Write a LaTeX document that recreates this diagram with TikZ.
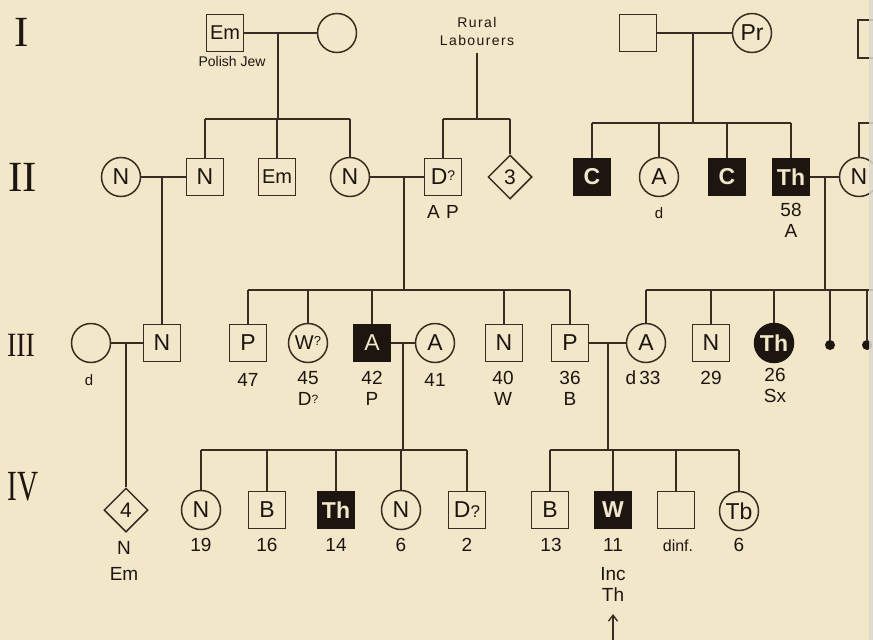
\documentclass[tikz,border=0pt]{standalone}
\usepackage{fontspec}
\setmainfont{Liberation Sans}
\newfontfamily\romfont{Liberation Serif}
\newfontfamily\spacedfont[LetterSpace=10]{Liberation Sans}
\usetikzlibrary{shapes.geometric,arrows.meta}
\definecolor{bg}{HTML}{F3E7CA}
\definecolor{ink}{HTML}{3A2C22}
\definecolor{blk}{HTML}{1C1510}
\definecolor{pageedge}{HTML}{DCD8CE}
\newcommand{\qmark}{{\fontsize{12}{12}\selectfont\raisebox{2pt}{?}}}
\tikzset{
  base/.style={draw=ink, line width=1.5pt, inner sep=0pt, text=blk,
    font=\fontsize{23}{23}\selectfont},
  male/.style={base, rectangle, minimum size=37pt},
  female/.style={base, circle, minimum size=39pt},
  sexunk/.style={base, diamond, minimum width=44pt, minimum height=44pt,
    font=\fontsize{21}{21}\selectfont},
  affm/.style={male, fill=blk, draw=blk, text=bg},
  afff/.style={female, fill=blk, draw=blk, text=bg},
  dotnode/.style={circle, fill=blk, inner sep=0pt, minimum size=10pt},
  lab/.style={text=blk, inner sep=0pt, anchor=north, align=center,
    font=\fontsize{19}{21}\selectfont},
  smlab/.style={text=blk, inner sep=0pt, align=center,
    font=\fontsize{14}{18}\selectfont},
  gen/.style={text=blk, inner sep=0pt, font=\romfont\fontsize{43}{43}\selectfont},
  conn/.style={draw=ink, line width=1.4pt},
}
\begin{document}
\begin{tikzpicture}[x=1pt, y=-1pt]
\path[use as bounding box, fill=bg] (0,0) rectangle (873,640);
\clip (0,0) rectangle (873,640);

% generation labels
\node[gen] (gI) at (22,32) {I};
\node[gen] (gII) at (23,177) {II};
\node[gen, font=\romfont\fontsize{34}{34}\selectfont] (gIII) at (21,345) {\scalebox{0.82}[1]{III}};
\node[gen] (gIV) at (23,487) {\scalebox{0.68}[1]{IV}};

% sibship levels
\coordinate (s1) at (0,119);
\coordinate (s1r) at (0,123);
\coordinate (s3) at (0,290);
\coordinate (s4) at (0,450);

% ---------- Generation I ----------
\node[male, font=\fontsize{20}{20}\selectfont] (EmI) at (225,33) {Em};
\node[smlab] (pj) at (232,61) {Polish Jew};
\node[female] (wI) at (337,33) {};
\node[smlab, font=\spacedfont\fontsize{14}{18}\selectfont] (rural) at (477,31) {Rural\\Labourers};
\node[male] (mI2) at (638,33) {};
\node[female] (PrI) at (752,33) {Pr};
\node[male, minimum size=38pt] (trsq) at (877,39) {};

% ---------- Generation II ----------
\node[female] (N1) at (121,177) {N};
\node[male] (N2) at (205,177) {N};
\node[male, font=\fontsize{20}{20}\selectfont] (Em2) at (277,177) {Em};
\node[female] (N3) at (350,177) {N};
\node[male] (D2) at (443,177) {D{\fontsize{14}{14}\selectfont\raisebox{4pt}{?}}};
\node[sexunk] (three) at (510,177) {3};
\node[affm] (C1) at (592,177) {\bfseries C};
\node[female] (A2) at (659,177) {A};
\node[affm] (C2) at (727,177) {\bfseries C};
\node[affm] (Th2) at (791,177) {\bfseries Th};
\node[female] (N4) at (859,177) {N};

\node[lab] (lAP) at (443,205) {A\,\,P};
\node[lab, font=\fontsize{15}{16}\selectfont] (ld2) at (659,207) {d};
\node[lab] (l58) at (791,203) {58\\A};

% ---------- Generation III ----------
\node[female] (wIII) at (91,343) {};
\node[lab, font=\fontsize{15}{16}\selectfont] (ld3) at (89,374) {d};
\node[male] (N5) at (162,343) {N};
\node[male] (P1) at (248,343) {P};
\node[female, font=\fontsize{20}{20}\selectfont] (W1) at (308,343) {W{\fontsize{13}{13}\selectfont\raisebox{4pt}{?}}};
\node[affm] (A3) at (372,343) {A};
\node[female] (A4) at (435,343) {A};
\node[male] (N6) at (504,343) {N};
\node[male] (P2) at (570,343) {P};
\node[female] (A5) at (646,343) {A};
\node[male] (N7) at (711,343) {N};
\node[afff] (Th3) at (774,343) {\bfseries Th};
\node[dotnode] (dot1) at (830,345) {};
\node[dotnode] (dot2) at (867,345) {};

\node[lab] (l47) at (248,373) {47};
\node[lab] (l45) at (308,371) {45\\D\qmark};
\node[lab] (l42) at (372,371) {42\\P};
\node[lab] (l41) at (435,373) {41};
\node[lab] (l40) at (503,371) {40\\W};
\node[lab] (l36) at (570,371) {36\\B};
\node[lab] (l33) at (643,371) {d\,33};
\node[lab] (l29) at (711,371) {29};
\node[lab] (l26) at (775,368) {26\\Sx};

% ---------- Generation IV ----------
\node[sexunk] (four) at (126,510) {4};
\node[lab] (l4N) at (124,541) {N};
\node[lab] (l4E) at (124,567) {Em};
\node[female] (N8) at (201,510) {N};
\node[male] (B1) at (267,510) {B};
\node[affm] (Th4) at (336,510) {\bfseries Th};
\node[female] (N9) at (401,510) {N};
\node[male] (D3) at (467,510) {D{\fontsize{17}{17}\selectfont ?}};
\node[male] (B2) at (550,510) {B};
\node[affm] (W2) at (613,510) {\bfseries W};
\node[male] (blank) at (676,510) {};
\node[female] (Tb) at (739,511) {Tb};

\node[lab] (l19) at (201,538) {19};
\node[lab] (l16) at (267,538) {16};
\node[lab] (l14) at (336,538) {14};
\node[lab] (l6a) at (401,538) {6};
\node[lab] (l2) at (467,538) {2};
\node[lab] (l13) at (551,538) {13};
\node[lab] (l11) at (613,538) {11};
\node[lab, font=\fontsize{16}{16}\selectfont] (ldinf) at (678,540) {dinf.};
\node[lab] (l6b) at (739,538) {6};
\node[lab] (lInc) at (613,567) {Inc\\Th};
\coordinate (arrB) at (613,641);
\coordinate (arrT) at (613,614);

% ---------- connectors ----------
% Generation I
\draw[conn] (EmI.east) -- (wI.west);
\coordinate (m1) at (278,33);
\draw[conn] (m1) -- (m1 |- s1);
\draw[conn] (N2.north |- s1) -- (N3.north |- s1);
\foreach \n in {N2,Em2,N3} \draw[conn] (\n.north) -- (\n.north |- s1);

\draw[conn] ([yshift=-8pt]rural.south) -- (rural.south |- s1);
\draw[conn] (D2.north |- s1) -- (three.north |- s1);
\foreach \n in {D2,three} \draw[conn] (\n.north) -- (\n.north |- s1);

\draw[conn] (mI2.east) -- (PrI.west);
\coordinate (m2) at (693,33);
\draw[conn] (m2) -- (m2 |- s1r);
\draw[conn] (C1.north |- s1r) -- (Th2.north |- s1r);
\foreach \n in {C1,A2,C2,Th2} \draw[conn] (\n.north) -- (\n.north |- s1r);
\draw[conn] (N4.north) -- (N4.north |- s1r) -- (890,123);

% Generation II marriages
\draw[conn] (N1.east) -- (N2.west);
\coordinate (m3) at (162,177);
\draw[conn] (m3) -- (N5.north);
\draw[conn] (N3.east) -- (D2.west);
\coordinate (m4) at (404,177);
\draw[conn] (m4) -- (m4 |- s3);
\draw[conn] (Th2.east) -- (N4.west);
\coordinate (m5) at (825,177);
\draw[conn] (m5) -- (m5 |- s3);

% Generation III sibships
\draw[conn] (P1.north |- s3) -- (P2.north |- s3);
\foreach \n in {P1,W1,A3,N6,P2} \draw[conn] (\n.north) -- (\n.north |- s3);
\draw[conn] (A5.north |- s3) -- (890,290);
\foreach \n in {A5,N7,Th3,dot1,dot2} \draw[conn] (\n.north) -- (\n.north |- s3);

% Generation III marriages
\draw[conn] (wIII.east) -- (N5.west);
\coordinate (m6) at (126,343);
\draw[conn] (m6) -- (four.north);
\draw[conn] (A3.east) -- (A4.west);
\coordinate (m7) at (403,343);
\draw[conn] (m7) -- (m7 |- s4);
\draw[conn] (P2.east) -- (A5.west);
\coordinate (m8) at (608,343);
\draw[conn] (m8) -- (m8 |- s4);

% Generation IV sibships
\draw[conn] (N8.north |- s4) -- (D3.north |- s4);
\foreach \n in {N8,B1,Th4,N9,D3} \draw[conn] (\n.north) -- (\n.north |- s4);
\draw[conn] (B2.north |- s4) -- (Tb.north |- s4);
\foreach \n in {B2,W2,blank,Tb} \draw[conn] (\n.north) -- (\n.north |- s4);

% arrow
\draw[conn, -{Straight Barb[length=6pt,width=9pt]}] (arrB) -- (arrT);

% page edge
\fill[pageedge, opacity=0.85] (869,0) rectangle (873,640);
\end{tikzpicture}
\end{document}
